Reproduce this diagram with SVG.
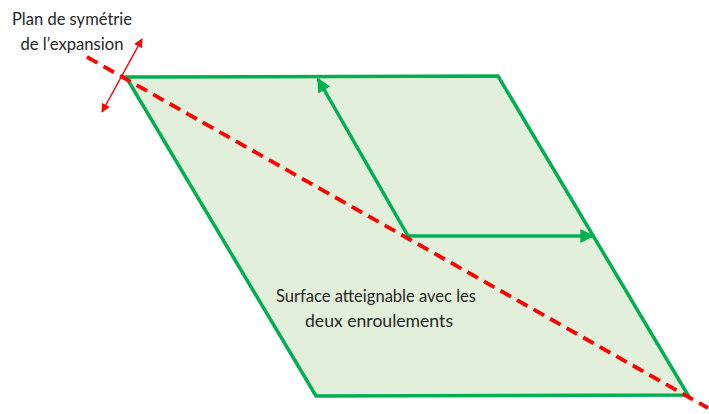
<svg xmlns="http://www.w3.org/2000/svg" width="709" height="414" viewBox="0 0 709 414">
<style>
.lbl{font-family:Lato,"Liberation Sans",Arial,sans-serif;font-size:17px;fill:#262626}
.g{stroke:#00B050;stroke-width:3.5;fill:none}
</style>
<defs>
<marker id="ga" viewBox="0 0 10 10" refX="9" refY="5" markerWidth="4" markerHeight="4" orient="auto" markerUnits="strokeWidth"><path d="M0,0 L10,5 L0,10 z" fill="#00B050"/></marker>
<marker id="ra" viewBox="0 0 10 10" refX="9" refY="5" markerWidth="6" markerHeight="6" orient="auto-start-reverse" markerUnits="strokeWidth"><path d="M0,0 L10,5 L0,10 z" fill="#FF0000"/></marker>
</defs>
<rect width="709" height="414" fill="#fff"/>
<g id="surface">
<polygon points="126,77 498,76 688,395 316,396" fill="#E2EFDA" stroke="#00B050" stroke-width="3.5" stroke-linejoin="miter"/>
<text class="lbl" x="376" y="302" text-anchor="middle" textLength="200" lengthAdjust="spacingAndGlyphs">Surface atteignable avec les</text>
<text class="lbl" x="379" y="327" text-anchor="middle" textLength="148" lengthAdjust="spacingAndGlyphs">deux enroulements</text>
</g>
<g id="connectors">
<line class="g" x1="408" y1="236" x2="318" y2="79" marker-end="url(#ga)"/>
<line class="g" x1="408" y1="236" x2="593" y2="236" marker-end="url(#ga)"/>
<line x1="87" y1="57" x2="708" y2="408" stroke="#FF0000" stroke-width="3.8" stroke-dasharray="12,7"/>
<line x1="142" y1="39" x2="102" y2="112" stroke="#FF0000" stroke-width="1.5" marker-start="url(#ra)" marker-end="url(#ra)"/>
</g>
<g id="plan-label">
<text class="lbl" x="72" y="25" text-anchor="middle" textLength="120" lengthAdjust="spacingAndGlyphs">Plan de symétrie</text>
<text class="lbl" x="72" y="50" text-anchor="middle" textLength="103" lengthAdjust="spacingAndGlyphs">de l’expansion</text>
</g>
</svg>
